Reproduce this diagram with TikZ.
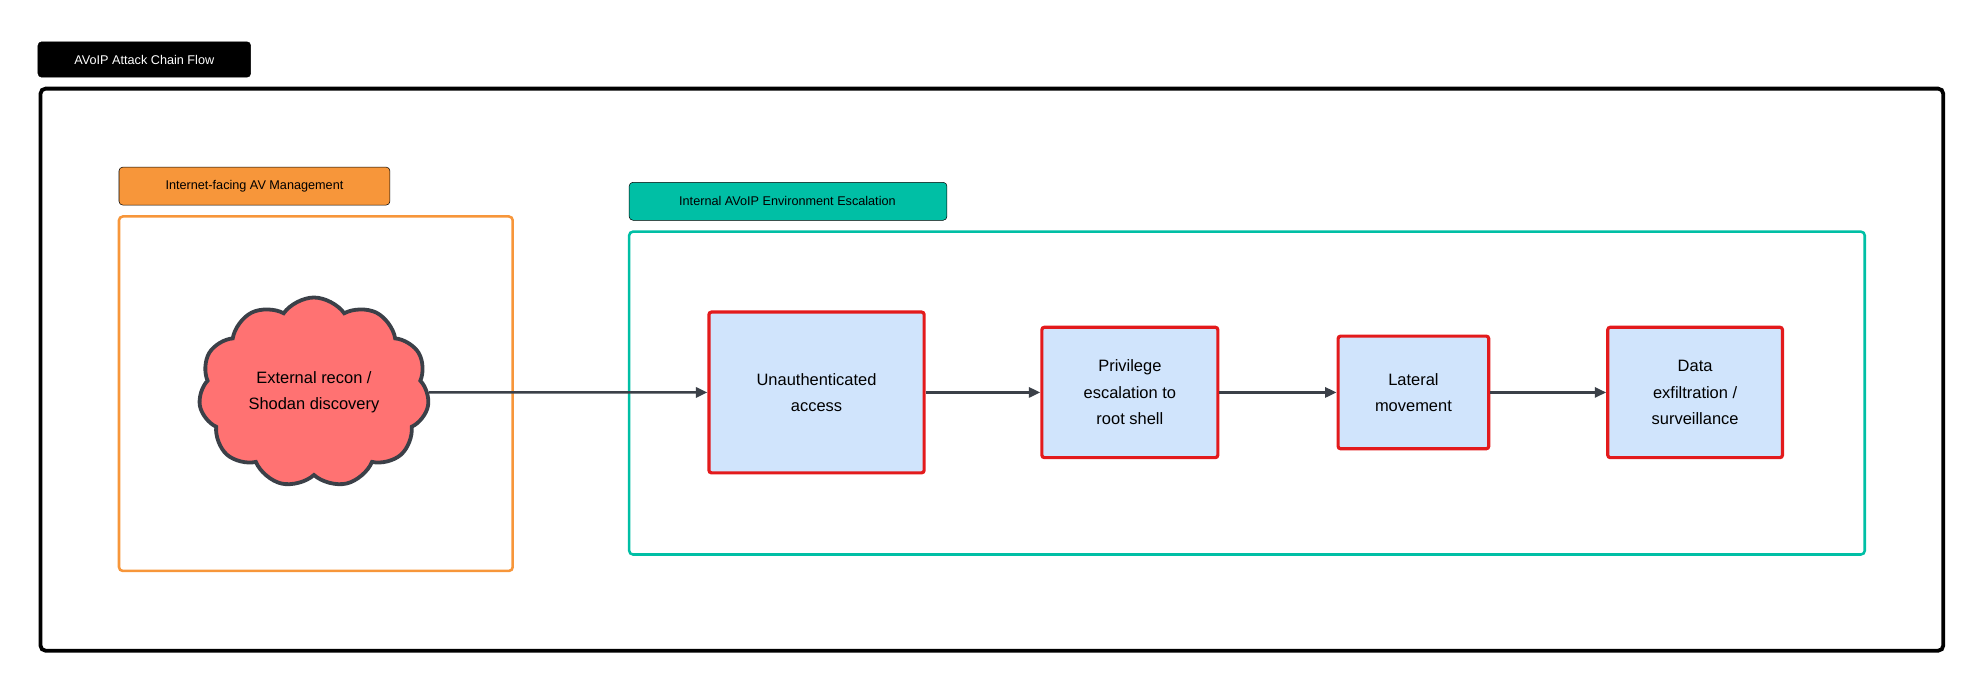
\documentclass[tikz,border=0pt]{standalone}
\usepackage{fontspec}
\setmainfont{Liberation Sans}
\usetikzlibrary{shapes.symbols,arrows.meta}
\definecolor{dk}{HTML}{3B4048}
\definecolor{org}{HTML}{F7963A}
\definecolor{teal}{HTML}{00BFA5}
\definecolor{rd}{HTML}{E31A1C}
\definecolor{bl}{HTML}{D0E4FC}
\definecolor{cl}{HTML}{FF7272}
\tikzset{
  tag/.style={rounded corners=3pt,font=\fontsize{10}{12}\selectfont,inner sep=0pt},
  stepbox/.style={draw=rd,line width=2.5pt,fill=bl,rounded corners=2pt,align=center,font=\fontsize{13}{21}\selectfont},
  conn/.style={draw=dk,line width=2pt,-{Triangle[length=9pt,width=8pt]}}
}
\begin{document}
\begin{tikzpicture}[x=1pt,y=-1pt]
\useasboundingbox (0,0) rectangle (1568,546);
\draw[rounded corners=4pt,line width=3pt] (32,70) rectangle (1535,514);
\draw[tag,fill=black] (30,33) rectangle (198,61);
\node[tag,text=white] (title) at (114,47) {AVoIP Attack Chain Flow};
\draw[tag,fill=org] (94,132) rectangle (308,162);
\node[tag] (orgt) at (201,147) {Internet-facing AV Management};
\draw[draw=org,line width=2pt,rounded corners=3pt] (94,171) rectangle (405,451);
\draw[tag,fill=teal] (497,144) rectangle (748,174);
\node[tag] (tealt) at (622,159) {Internal AVoIP Environment Escalation};
\draw[draw=teal,line width=2pt,rounded corners=3pt] (497,183) rectangle (1473,438);
\node[cloud,cloud puffs=11,cloud puff arc=110,aspect=1.1,draw=dk,line width=3pt,fill=cl,minimum width=182pt,minimum height=150pt,align=center,font=\fontsize{13}{21}\selectfont,inner sep=0pt] (c) at (248,310) {External recon /\\Shodan discovery};
\node[stepbox,minimum width=170pt,minimum height=127pt] (b1) at (645,310) {Unauthenticated\\access};
\node[stepbox,minimum width=139pt,minimum height=103pt] (b2) at (892.5,310) {Privilege\\escalation to\\root shell};
\node[stepbox,minimum width=119pt,minimum height=89pt] (b3) at (1116.5,310) {Lateral\\movement};
\node[stepbox,minimum width=138pt,minimum height=103pt] (b4) at (1339,310) {Data\\exfiltration /\\surveillance};
\draw[conn] (c.east) -- (b1.west);
\draw[conn] (b1) -- (b2);
\draw[conn] (b2) -- (b3);
\draw[conn] (b3) -- (b4);
\end{tikzpicture}
\end{document}
